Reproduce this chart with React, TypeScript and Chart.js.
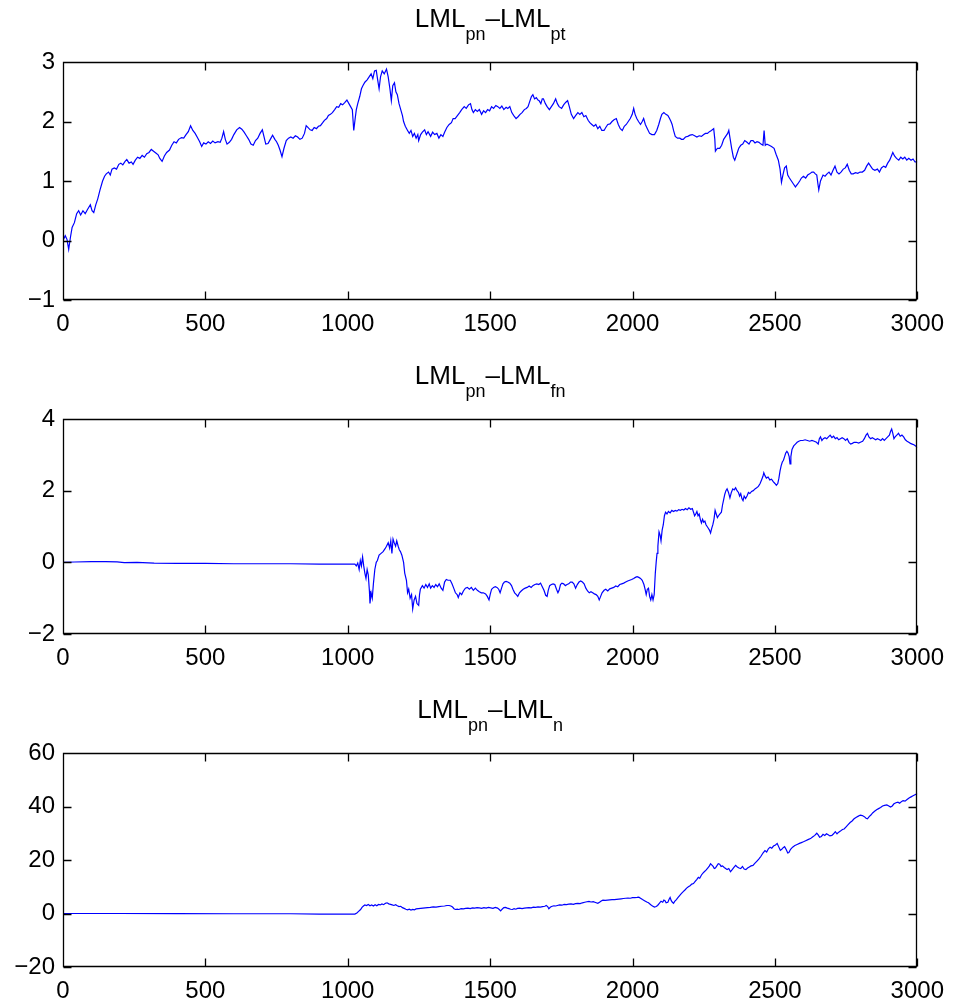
import React, { useEffect, useRef } from "react";
import { Chart, registerables } from "chart.js";

Chart.register(...registerables);

// ---- Data: [step, value] ----
const lmlPtSeries: [number, number][] = [
  [0,0],[8,0.08],[14,0.02],[20,-0.15],[26,0.05],[32,0.22],[40,0.3],[48,0.45],[55,0.5],[62,0.43],[70,0.5],[78,0.45],[86,0.52],[96,0.6],[102,0.5],[108,0.47],[115,0.6],[122,0.7],[130,0.85],[139,1.0],[146,1.08],[152,1.12],[160,1.15],[166,1.1],[172,1.2],[180,1.22],[188,1.2],[196,1.28],[203,1.3],[210,1.27],[218,1.33],[224,1.36],[232,1.3],[240,1.32],[246,1.28],[254,1.35],[262,1.4],[270,1.38],[278,1.43],[286,1.4],[294,1.46],[302,1.48],[310,1.53],[318,1.5],[326,1.47],[334,1.44],[340,1.38],[348,1.33],[356,1.42],[364,1.48],[374,1.52],[382,1.6],[390,1.66],[398,1.64],[406,1.7],[416,1.73],[424,1.72],[432,1.78],[440,1.83],[448,1.93],[456,1.85],[464,1.8],[472,1.73],[480,1.66],[487,1.58],[494,1.64],[502,1.62],[510,1.66],[518,1.63],[526,1.67],[534,1.64],[544,1.66],[552,1.65],[558,1.72],[564,1.83],[570,1.7],[576,1.62],[584,1.65],[592,1.7],[600,1.78],[610,1.86],[620,1.9],[628,1.87],[636,1.82],[644,1.76],[652,1.7],[660,1.62],[668,1.6],[676,1.68],[684,1.72],[692,1.8],[700,1.86],[706,1.74],[712,1.62],[720,1.63],[728,1.7],[736,1.77],[744,1.7],[750,1.66],[756,1.6],[762,1.52],[769,1.41],[776,1.55],[784,1.68],[792,1.72],[800,1.74],[808,1.72],[816,1.76],[824,1.74],[832,1.7],[840,1.72],[848,1.8],[854,1.93],[860,1.9],[868,1.86],[875,1.85],[882,1.9],[890,1.88],[897,1.92],[904,1.93],[912,1.98],[918,2.02],[926,2.05],[932,2.1],[939,2.12],[946,2.15],[954,2.2],[961,2.25],[968,2.24],[975,2.3],[982,2.28],[990,2.32],[997,2.36],[1004,2.3],[1010,2.25],[1016,2.2],[1021,1.85],[1026,2.05],[1030,2.2],[1035,2.3],[1042,2.42],[1048,2.55],[1053,2.6],[1060,2.66],[1068,2.7],[1075,2.75],[1082,2.8],[1088,2.72],[1094,2.85],[1100,2.86],[1105,2.7],[1110,2.55],[1115,2.75],[1121,2.85],[1128,2.8],[1136,2.88],[1142,2.75],[1148,2.55],[1153,2.35],[1158,2.6],[1164,2.65],[1169,2.5],[1174,2.45],[1180,2.3],[1186,2.2],[1192,2.1],[1196,2.0],[1202,1.92],[1210,1.85],[1216,1.8],[1222,1.85],[1228,1.75],[1234,1.8],[1240,1.72],[1246,1.78],[1249,1.68],[1256,1.78],[1262,1.82],[1270,1.86],[1276,1.78],[1282,1.83],[1291,1.75],[1298,1.82],[1305,1.78],[1313,1.8],[1320,1.72],[1327,1.78],[1334,1.75],[1340,1.82],[1348,1.9],[1356,1.95],[1364,1.98],[1370,2.05],[1377,2.05],[1385,2.1],[1393,2.15],[1400,2.2],[1409,2.25],[1416,2.22],[1424,2.28],[1431,2.3],[1436,2.2],[1441,2.15],[1448,2.2],[1455,2.17],[1462,2.2],[1470,2.12],[1477,2.18],[1484,2.15],[1491,2.2],[1498,2.18],[1505,2.25],[1512,2.22],[1520,2.27],[1527,2.25],[1534,2.22],[1541,2.26],[1548,2.2],[1556,2.24],[1562,2.22],[1569,2.25],[1576,2.15],[1583,2.1],[1591,2.05],[1598,2.08],[1605,2.12],[1612,2.15],[1620,2.2],[1627,2.22],[1633,2.25],[1640,2.35],[1645,2.42],[1650,2.45],[1656,2.38],[1662,2.4],[1668,2.36],[1672,2.35],[1678,2.3],[1683,2.38],[1687,2.38],[1694,2.3],[1700,2.25],[1708,2.2],[1715,2.25],[1722,2.3],[1730,2.38],[1736,2.3],[1742,2.25],[1751,2.22],[1758,2.28],[1765,2.32],[1772,2.35],[1778,2.25],[1785,2.12],[1793,2.05],[1800,2.1],[1808,2.15],[1815,2.12],[1822,2.15],[1829,2.08],[1836,2.1],[1844,2.02],[1850,1.98],[1857,1.95],[1864,1.92],[1871,1.95],[1878,1.88],[1885,1.92],[1892,1.85],[1900,1.85],[1906,1.9],[1913,1.95],[1921,1.96],[1928,2.0],[1935,2.03],[1943,2.05],[1950,1.95],[1957,1.88],[1964,1.85],[1971,1.92],[1978,1.95],[1985,2.0],[1992,2.05],[1999,2.12],[2004,2.22],[2009,2.12],[2015,2.05],[2021,2.0],[2028,1.95],[2034,2.0],[2039,2.05],[2045,1.95],[2052,1.88],[2060,1.8],[2068,1.78],[2077,1.78],[2085,1.85],[2092,1.95],[2098,2.05],[2103,2.12],[2110,2.15],[2117,2.12],[2124,2.1],[2130,2.05],[2135,2.0],[2139,1.95],[2144,1.85],[2150,1.75],[2158,1.72],[2166,1.72],[2172,1.7],[2178,1.7],[2186,1.74],[2194,1.75],[2202,1.77],[2210,1.78],[2218,1.76],[2226,1.74],[2234,1.76],[2242,1.75],[2250,1.78],[2256,1.8],[2263,1.8],[2270,1.83],[2277,1.85],[2285,1.88],[2289,1.7],[2291,1.5],[2298,1.55],[2306,1.55],[2313,1.6],[2320,1.7],[2327,1.75],[2334,1.8],[2338,1.85],[2343,1.7],[2348,1.55],[2354,1.4],[2359,1.35],[2366,1.45],[2373,1.55],[2380,1.6],[2387,1.62],[2394,1.68],[2402,1.65],[2409,1.62],[2416,1.68],[2423,1.68],[2430,1.64],[2437,1.66],[2444,1.65],[2451,1.62],[2458,1.6],[2462,1.85],[2466,1.6],[2472,1.62],[2480,1.6],[2488,1.58],[2497,1.55],[2504,1.45],[2512,1.35],[2518,1.2],[2523,0.98],[2528,1.1],[2534,1.22],[2540,1.25],[2545,1.1],[2551,1.05],[2558,1.0],[2565,0.95],[2572,0.9],[2580,0.95],[2587,1.0],[2593,1.05],[2600,1.08],[2608,1.05],[2615,1.1],[2622,1.12],[2630,1.15],[2636,1.15],[2642,1.12],[2647,1.1],[2651,0.95],[2654,0.85],[2660,1.0],[2669,1.1],[2676,1.08],[2683,1.12],[2690,1.15],[2697,1.1],[2704,1.18],[2711,1.25],[2718,1.15],[2725,1.12],[2732,1.15],[2740,1.2],[2747,1.22],[2754,1.28],[2761,1.18],[2768,1.12],[2775,1.12],[2783,1.14],[2791,1.13],[2799,1.15],[2807,1.15],[2815,1.18],[2822,1.25],[2829,1.3],[2836,1.25],[2843,1.2],[2851,1.18],[2860,1.2],[2867,1.15],[2874,1.22],[2882,1.25],[2889,1.23],[2896,1.3],[2903,1.35],[2909,1.42],[2914,1.48],[2920,1.42],[2927,1.38],[2935,1.35],[2942,1.4],[2949,1.37],[2956,1.4],[2963,1.35],[2970,1.38],[2978,1.35],[2985,1.37],[2992,1.32],[3000,1.32],
];

const lmlFnSeries: [number, number][] = [
  [0,0],[40,0.01],[100,0.02],[150,0.02],[190,0.015],[215,-0.01],[260,0.0],[320,-0.02],[400,-0.03],[500,-0.03],[600,-0.04],[700,-0.04],[800,-0.04],[900,-0.05],[1000,-0.05],[1025,-0.05],[1030,-0.1],[1035,-0.02],[1040,-0.2],[1044,0.05],[1048,-0.1],[1052,0.15],[1056,-0.1],[1060,-0.3],[1064,-0.45],[1068,-0.2],[1072,-0.35],[1076,-0.8],[1078,-1.15],[1082,-0.85],[1086,-1.0],[1090,-0.6],[1095,-0.2],[1100,0.0],[1104,0.05],[1110,0.2],[1117,0.25],[1124,0.3],[1131,0.38],[1136,0.45],[1142,0.55],[1147,0.4],[1151,0.6],[1155,0.25],[1159,0.65],[1163,0.55],[1168,0.45],[1172,0.6],[1177,0.45],[1181,0.35],[1185,0.3],[1190,0.2],[1196,0.0],[1200,-0.3],[1206,-0.5],[1210,-0.85],[1214,-0.75],[1219,-1.0],[1224,-0.9],[1228,-1.3],[1233,-1.05],[1238,-0.95],[1243,-1.15],[1249,-1.2],[1252,-0.9],[1255,-0.75],[1262,-0.65],[1268,-0.72],[1274,-0.62],[1280,-0.7],[1286,-0.6],[1291,-0.72],[1297,-0.65],[1303,-0.7],[1309,-0.62],[1315,-0.68],[1321,-0.6],[1328,-0.72],[1334,-0.78],[1340,-0.55],[1346,-0.48],[1352,-0.5],[1360,-0.5],[1366,-0.6],[1372,-0.72],[1378,-0.85],[1384,-0.9],[1388,-0.98],[1394,-0.85],[1400,-0.9],[1406,-0.8],[1413,-0.72],[1420,-0.7],[1427,-0.75],[1434,-0.7],[1441,-0.78],[1448,-0.72],[1455,-0.78],[1462,-0.82],[1469,-0.85],[1476,-0.85],[1484,-0.88],[1490,-0.95],[1496,-1.05],[1500,-0.9],[1505,-0.75],[1512,-0.7],[1518,-0.68],[1524,-0.7],[1530,-0.75],[1535,-0.85],[1540,-0.72],[1545,-0.6],[1550,-0.55],[1556,-0.53],[1562,-0.55],[1569,-0.58],[1575,-0.65],[1580,-0.75],[1586,-0.85],[1592,-0.9],[1597,-0.95],[1603,-0.85],[1609,-0.8],[1616,-0.75],[1623,-0.72],[1630,-0.7],[1637,-0.66],[1644,-0.7],[1650,-0.65],[1657,-0.62],[1664,-0.6],[1671,-0.62],[1677,-0.58],[1683,-0.68],[1689,-0.78],[1695,-0.92],[1700,-0.95],[1704,-0.78],[1709,-0.65],[1715,-0.62],[1721,-0.6],[1727,-0.62],[1733,-0.75],[1738,-0.85],[1742,-0.78],[1747,-0.62],[1752,-0.58],[1758,-0.6],[1764,-0.65],[1770,-0.62],[1776,-0.6],[1782,-0.55],[1788,-0.55],[1794,-0.6],[1800,-0.72],[1806,-0.62],[1812,-0.55],[1818,-0.52],[1824,-0.55],[1830,-0.6],[1836,-0.72],[1842,-0.8],[1848,-0.85],[1854,-0.82],[1860,-0.85],[1866,-0.88],[1872,-0.9],[1878,-0.95],[1883,-1.05],[1888,-0.95],[1893,-0.85],[1900,-0.78],[1906,-0.75],[1913,-0.8],[1920,-0.74],[1927,-0.72],[1934,-0.7],[1941,-0.66],[1948,-0.68],[1955,-0.62],[1962,-0.6],[1969,-0.58],[1976,-0.55],[1983,-0.52],[1990,-0.5],[1997,-0.48],[2004,-0.45],[2010,-0.42],[2016,-0.4],[2022,-0.42],[2028,-0.45],[2034,-0.5],[2040,-0.62],[2044,-0.75],[2048,-0.9],[2052,-0.75],[2056,-0.72],[2060,-0.95],[2064,-1.05],[2068,-0.9],[2072,-1.05],[2076,-0.9],[2080,-0.3],[2083,0.0],[2086,0.25],[2089,0.45],[2093,0.85],[2097,0.75],[2100,0.6],[2104,0.9],[2108,1.05],[2112,1.3],[2116,1.4],[2121,1.35],[2126,1.42],[2132,1.38],[2138,1.45],[2144,1.42],[2150,1.45],[2156,1.43],[2162,1.47],[2168,1.45],[2174,1.48],[2180,1.46],[2186,1.5],[2192,1.47],[2198,1.52],[2204,1.48],[2210,1.5],[2214,1.4],[2218,1.3],[2222,1.35],[2226,1.42],[2230,1.3],[2234,1.35],[2238,1.2],[2242,1.1],[2246,1.2],[2250,1.12],[2254,1.15],[2258,1.05],[2262,1.0],[2266,0.95],[2270,0.9],[2274,0.82],[2278,0.95],[2282,1.05],[2286,1.2],[2290,1.45],[2294,1.35],[2298,1.25],[2302,1.3],[2307,1.35],[2312,1.4],[2316,1.6],[2320,1.75],[2324,1.9],[2328,2.0],[2332,2.05],[2337,1.95],[2342,1.8],[2347,1.95],[2352,2.05],[2357,2.02],[2362,2.08],[2367,2.0],[2372,1.95],[2376,1.85],[2380,1.92],[2384,1.78],[2388,1.72],[2392,1.85],[2397,1.78],[2402,1.85],[2407,1.95],[2412,1.92],[2418,1.98],[2424,2.0],[2430,2.05],[2436,2.08],[2442,2.12],[2448,2.2],[2453,2.3],[2458,2.4],[2461,2.5],[2465,2.42],[2470,2.35],[2476,2.38],[2482,2.3],[2488,2.32],[2494,2.25],[2500,2.2],[2505,2.15],[2510,2.2],[2514,2.35],[2518,2.55],[2522,2.7],[2526,2.8],[2530,2.85],[2534,2.95],[2538,3.05],[2542,3.1],[2546,3.05],[2550,2.95],[2553,2.75],[2556,2.95],[2560,3.15],[2566,3.25],[2572,3.3],[2578,3.35],[2584,3.38],[2590,3.4],[2598,3.4],[2606,3.42],[2614,3.4],[2622,3.38],[2630,3.4],[2638,3.38],[2646,3.35],[2652,3.3],[2656,3.45],[2660,3.5],[2665,3.4],[2670,3.45],[2676,3.48],[2682,3.45],[2688,3.5],[2694,3.55],[2700,3.48],[2706,3.52],[2712,3.45],[2718,3.48],[2724,3.42],[2730,3.45],[2736,3.48],[2742,3.45],[2748,3.4],[2754,3.45],[2760,3.35],[2766,3.3],[2772,3.32],[2778,3.35],[2786,3.35],[2794,3.33],[2802,3.36],[2808,3.38],[2814,3.45],[2820,3.55],[2825,3.6],[2830,3.5],[2836,3.45],[2842,3.48],[2848,3.45],[2854,3.42],[2860,3.45],[2866,3.43],[2872,3.4],[2878,3.45],[2884,3.4],[2890,3.45],[2896,3.5],[2902,3.55],[2906,3.65],[2910,3.72],[2914,3.6],[2918,3.45],[2922,3.5],[2928,3.55],[2934,3.6],[2940,3.52],[2946,3.55],[2952,3.5],[2958,3.42],[2964,3.38],[2970,3.35],[2976,3.32],[2982,3.3],[2988,3.28],[2994,3.25],[3000,3.2],
];

const lmlNSeries: [number, number][] = [
  [0,0],[200,0],[400,-0.05],[600,-0.1],[800,-0.1],[900,-0.2],[1000,-0.2],[1025,-0.2],[1032,0.2],[1038,0.8],[1045,1.5],[1050,2.3],[1055,2.8],[1060,3.2],[1066,3.0],[1072,3.4],[1078,2.9],[1084,3.2],[1090,2.8],[1096,3.3],[1102,2.9],[1108,3.4],[1114,3.2],[1120,3.6],[1126,3.3],[1132,3.8],[1138,4.0],[1144,3.6],[1150,3.4],[1156,3.2],[1162,3.0],[1168,3.3],[1174,2.9],[1180,2.6],[1186,2.7],[1192,2.2],[1198,1.9],[1204,1.6],[1210,1.4],[1216,1.6],[1222,1.3],[1228,1.5],[1234,1.4],[1240,1.7],[1248,1.8],[1256,1.9],[1264,2.0],[1272,2.1],[1280,2.2],[1290,2.3],[1300,2.5],[1310,2.4],[1320,2.6],[1330,2.7],[1340,2.8],[1348,3.0],[1356,3.0],[1362,2.8],[1368,2.4],[1373,1.8],[1378,1.5],[1384,1.6],[1390,1.5],[1398,1.8],[1406,1.7],[1414,1.9],[1422,2.0],[1430,1.8],[1438,2.1],[1446,2.0],[1454,2.2],[1462,2.1],[1470,1.9],[1478,2.2],[1486,2.0],[1494,2.3],[1502,2.1],[1510,1.9],[1518,2.3],[1526,2.0],[1532,1.5],[1537,1.0],[1542,1.6],[1548,2.2],[1554,2.3],[1560,2.0],[1566,1.8],[1572,1.6],[1578,1.5],[1584,1.8],[1590,1.6],[1596,1.9],[1604,2.0],[1612,1.8],[1620,2.0],[1628,2.1],[1636,2.2],[1644,2.1],[1652,2.4],[1660,2.3],[1668,2.5],[1676,2.4],[1684,2.6],[1692,2.7],[1697,3.0],[1702,2.6],[1706,1.8],[1712,2.4],[1718,2.7],[1724,2.9],[1730,2.8],[1736,3.0],[1744,3.2],[1752,3.1],[1760,3.4],[1768,3.3],[1776,3.5],[1784,3.6],[1792,3.4],[1800,3.7],[1808,3.8],[1816,3.7],[1824,4.0],[1832,4.2],[1840,4.4],[1847,4.5],[1854,4.3],[1862,4.4],[1870,4.1],[1878,3.8],[1884,4.2],[1890,4.7],[1896,5.0],[1904,4.9],[1912,5.0],[1920,5.1],[1928,5.2],[1936,5.2],[1944,5.3],[1952,5.4],[1960,5.5],[1968,5.6],[1976,5.7],[1984,5.8],[1992,5.7],[2000,5.9],[2008,5.9],[2016,6.0],[2022,6.1],[2028,5.7],[2035,5.2],[2042,4.8],[2050,4.3],[2056,4.0],[2064,3.3],[2070,2.8],[2077,2.4],[2083,2.6],[2088,3.0],[2094,3.8],[2100,4.6],[2106,4.2],[2110,5.0],[2114,4.8],[2118,4.0],[2124,4.2],[2128,5.2],[2132,6.0],[2136,4.8],[2140,4.2],[2144,3.8],[2148,4.5],[2154,5.2],[2160,6.0],[2166,6.8],[2172,7.5],[2178,8.2],[2184,8.8],[2190,9.5],[2196,10.0],[2202,10.4],[2208,11.0],[2214,11.2],[2220,12.0],[2226,12.8],[2231,13.5],[2236,13.2],[2242,14.4],[2248,15.2],[2252,15.6],[2258,16.2],[2264,17.0],[2270,17.8],[2274,18.6],[2278,18.2],[2283,17.6],[2287,16.8],[2291,17.0],[2296,17.8],[2301,18.6],[2306,18.4],[2311,17.6],[2316,17.8],[2322,17.2],[2327,16.8],[2332,16.4],[2338,16.8],[2344,15.6],[2350,16.4],[2356,17.2],[2362,18.0],[2368,17.4],[2374,17.0],[2380,16.8],[2386,17.6],[2392,16.6],[2398,16.4],[2404,17.0],[2410,17.4],[2416,17.8],[2423,18.0],[2430,18.8],[2437,19.6],[2444,20.4],[2451,21.4],[2458,22.6],[2465,23.5],[2471,23.0],[2477,24.2],[2483,24.8],[2489,24.4],[2495,25.2],[2502,25.6],[2508,26.2],[2513,25.0],[2519,23.6],[2524,24.0],[2529,24.6],[2534,25.0],[2540,23.8],[2545,22.6],[2549,22.8],[2555,24.0],[2562,24.8],[2570,25.4],[2578,25.8],[2586,26.2],[2593,26.5],[2600,26.8],[2608,27.2],[2616,27.6],[2625,28.0],[2632,28.6],[2640,29.2],[2647,30.0],[2652,29.4],[2657,28.5],[2663,28.8],[2669,29.6],[2675,29.2],[2681,29.8],[2687,29.4],[2693,29.0],[2700,29.2],[2706,29.8],[2712,30.6],[2718,29.8],[2724,30.4],[2730,30.8],[2737,31.4],[2743,31.6],[2750,32.4],[2757,33.2],[2764,34.0],[2771,34.6],[2778,35.4],[2786,36.0],[2793,36.4],[2800,36.8],[2807,36.6],[2814,36.2],[2820,35.6],[2825,35.4],[2831,36.2],[2837,36.8],[2843,37.6],[2850,38.2],[2857,38.8],[2864,39.2],[2871,39.6],[2878,40.2],[2885,40.4],[2893,40.6],[2900,40.2],[2906,39.8],[2912,40.2],[2918,41.0],[2925,41.4],[2932,41.6],[2938,41.2],[2944,41.8],[2950,42.2],[2957,42.0],[2964,42.6],[2971,43.2],[2978,43.6],[2985,44.0],[2992,44.4],[3000,44.8],
];

const xTickLabels = [0, 500, 1000, 1500, 2000, 2500, 3000];
const titleSubscripts = ["pt", "fn", "n"];
const yRanges: [number, number, number][] = [
  [-1, 3, 1],
  [-2, 4, 2],
  [-20, 60, 20],
];

// ---- Layout (pixels) ----
const FONT = "'Liberation Sans', Arial, Helvetica, sans-serif";
const PAGE_W = 954;
const PLOT_LEFT = 63;
const PLOT_RIGHT = 920;
const panelLayout = [
  { canvasTop: 0, canvasHeight: 345, plotTop: 62, plotBottom: 300 },
  { canvasTop: 345, canvasHeight: 330, plotTop: 74, plotBottom: 289 },
  { canvasTop: 675, canvasHeight: 332, plotTop: 78, plotBottom: 292 },
];

function fmt(v: number): string {
  return v < 0 ? "\u2212" + Math.abs(v) : String(v);
}

function Panel({ idx }: { idx: number }) {
  const ref = useRef<HTMLCanvasElement | null>(null);
  const lay = panelLayout[idx];
  const series = [lmlPtSeries, lmlFnSeries, lmlNSeries][idx];
  const [yMin, yMax, yStep] = yRanges[idx];
  const sub2 = titleSubscripts[idx];

  useEffect(() => {
    if (!ref.current) return;
    const framePlugin = {
      id: "matlabFrame" + idx,
      afterDraw(chart: any) {
        const ctx = chart.ctx as CanvasRenderingContext2D;
        const { left, right, top, bottom } = chart.chartArea;
        const xs = chart.scales.x;
        const ys = chart.scales.y;
        ctx.save();
        ctx.strokeStyle = "#000";
        ctx.lineWidth = 1.3;
        ctx.beginPath();
        const L = Math.round(left) + 0.5;
        const R = Math.round(right) - 0.5;
        const T = Math.round(top) + 0.5;
        const B = Math.round(bottom) - 0.5;
        ctx.rect(L, T, R - L, B - T);
        const tl = 8;
        xTickLabels.forEach((v) => {
          const px = Math.round(xs.getPixelForValue(v)) + 0.5;
          ctx.moveTo(px, B);
          ctx.lineTo(px, B - tl);
          ctx.moveTo(px, T);
          ctx.lineTo(px, T + tl);
        });
        for (let v = yMin; v <= yMax + 1e-9; v += yStep) {
          const py = Math.round(ys.getPixelForValue(v)) + 0.5;
          ctx.moveTo(L, py);
          ctx.lineTo(L + tl, py);
          ctx.moveTo(R, py);
          ctx.lineTo(R - tl, py);
        }
        ctx.stroke();

        // Title with subscripts
        const parts: [string, boolean][] = [
          ["LML", false],
          ["pn", true],
          ["\u2013LML", false],
          [sub2, true],
        ];
        const mainFont = `26px ${FONT}`;
        const subFont = `18px ${FONT}`;
        let total = 0;
        const widths = parts.map(([t, s]) => {
          ctx.font = s ? subFont : mainFont;
          const w = ctx.measureText(t).width;
          total += w;
          return w;
        });
        let x = (left + right) / 2 - total / 2;
        const baseY = top - 35;
        ctx.fillStyle = "#000";
        ctx.textBaseline = "alphabetic";
        ctx.textAlign = "left";
        parts.forEach(([t, s], i) => {
          ctx.font = s ? subFont : mainFont;
          ctx.fillText(t, x, s ? baseY + 13 : baseY);
          x += widths[i];
        });
        ctx.restore();
      },
    };

    const chart = new Chart(ref.current, {
      type: "line",
      data: {
        datasets: [
          {
            data: series.map(([x, y]) => ({ x, y })),
            borderColor: "#0000ff",
            borderWidth: 1.2,
            pointRadius: 0,
            tension: 0,
            fill: false,
          },
        ],
      },
      options: {
        animation: false,
        responsive: false,
        devicePixelRatio: 1,
        layout: {
          padding: { top: lay.plotTop, left: 0, right: PAGE_W - PLOT_RIGHT, bottom: 0 },
        },
        plugins: { legend: { display: false }, title: { display: false }, tooltip: { enabled: false } },
        scales: {
          x: {
            type: "linear",
            min: 0,
            max: 3000,
            grid: { display: false, drawTicks: false },
            border: { display: false },
            afterBuildTicks: (s: any) => {
              s.ticks = xTickLabels.map((v) => ({ value: v }));
            },
            afterFit: (s: any) => {
              s.height = lay.canvasHeight - lay.plotBottom;
            },
            ticks: {
              color: "#000",
              font: { family: FONT, size: 24 },
              padding: 10,
              maxRotation: 0,
              autoSkip: false,
              callback: (v: any) => fmt(Number(v)),
            },
          },
          y: {
            type: "linear",
            min: yMin,
            max: yMax,
            grid: { display: false, drawTicks: false },
            border: { display: false },
            afterFit: (s: any) => {
              s.width = PLOT_LEFT;
            },
            ticks: {
              stepSize: yStep,
              color: "#000",
              font: { family: FONT, size: 24 },
              padding: 8,
              callback: (v: any) => fmt(Number(v)),
            },
          },
        },
      },
      plugins: [framePlugin],
    } as any);
    return () => chart.destroy();
  }, [idx]);

  return (
    <canvas
      ref={ref}
      width={PAGE_W}
      height={lay.canvasHeight}
      style={{ position: "absolute", left: 0, top: lay.canvasTop, width: PAGE_W, height: lay.canvasHeight }}
    />
  );
}

export default function App() {
  return (
    <div style={{ position: "absolute", left: 0, top: 0, width: 954, height: 1007, background: "#fff" }}>
      <Panel idx={0} />
      <Panel idx={1} />
      <Panel idx={2} />
    </div>
  );
}
